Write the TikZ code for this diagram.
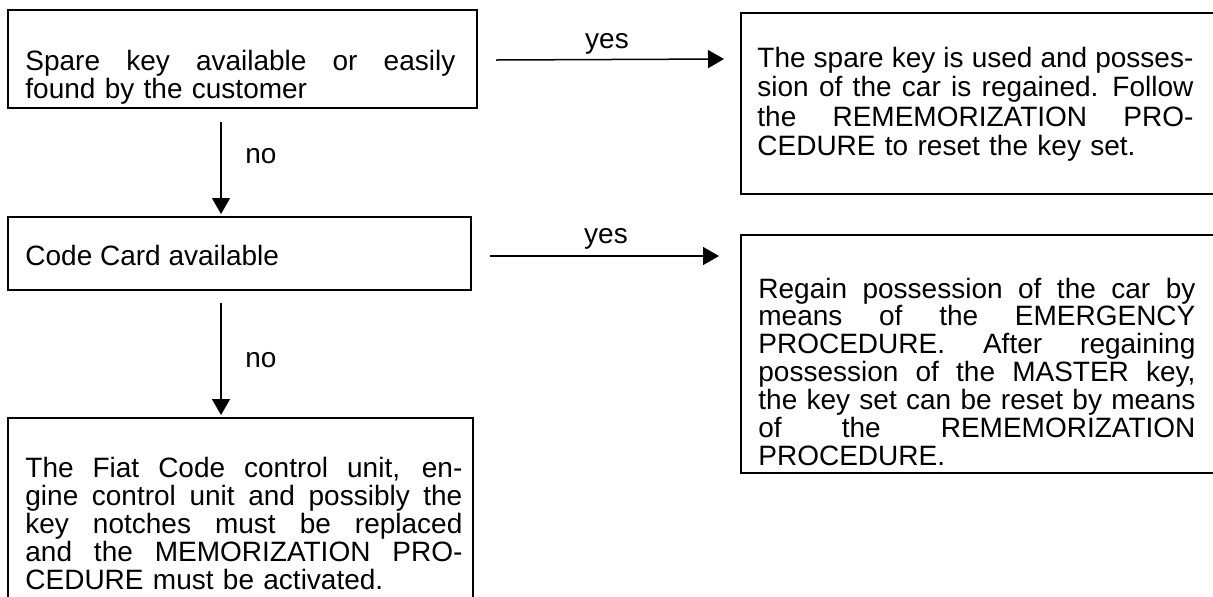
\documentclass[tikz,border=0pt]{standalone}
\usepackage{fontspec}
\setmainfont{Liberation Sans}
\usetikzlibrary{arrows.meta,fit}
\newlength\jw
\newcommand\jline[1]{\noindent\hbox to \jw{\spaceskip=0.278em plus 1fil\relax #1}}
\begin{document}
\begin{tikzpicture}[x=0.5pt,y=-0.5pt,
  box/.style={draw, line width=1pt, inner sep=0pt},
  txt/.style={inner sep=0pt, anchor=base west, font=\fontsize{14}{14}\selectfont},
  lbl/.style={inner sep=0pt, font=\fontsize{14}{14}\selectfont},
  arr/.style={line width=0.75pt, -{Triangle[length=8pt,width=9pt]}}]
\useasboundingbox (0,0) rectangle (1213,596);

% boxes
\node[box, fit={(8,10) (477,108)}] (A) {};
\node[box, fit={(8,217) (471,290)}] (B) {};
\node[box, fit={(8,418) (473,620)}] (C) {};
\node[box, fit={(741,13) (1240,194)}] (D) {};
\node[box, fit={(741,235) (1240,473)}] (E) {};

% texts
\node[txt, text width=215pt, font=\fontsize{14}{12.5}\selectfont] (At) at (25,70)
  {\setlength\jw{215pt}%
   \jline{Spare key available or easily}\\found by the customer};
\node[txt] (Bt) at (25,265) {Code Card available};
\node[txt, text width=218.5pt] (Ct) at (25,477)
  {\setlength\jw{218.5pt}%
   \jline{The Fiat Code control unit, en-}\\
   \jline{gine control unit and possibly the}\\
   \jline{key notches must be replaced}\\
   \jline{and the MEMORIZATION PRO-}\\
   CEDURE must be activated.};
\node[txt, text width=218pt, font=\fontsize{14}{14.75}\selectfont] (Dt) at (757,67)
  {\setlength\jw{218pt}%
   \jline{The spare key is used and posses-}\\
   \jline{sion of the car is regained. Follow}\\
   \jline{the REMEMORIZATION PRO-}\\
   CEDURE to reset the key set.};
\node[txt, text width=218.5pt, font=\fontsize{14}{13.95}\selectfont] (Et) at (758,298)
  {\setlength\jw{218.5pt}%
   \jline{Regain possession of the car by}\\
   \jline{means of the EMERGENCY}\\
   \jline{PROCEDURE. After regaining}\\
   \jline{possession of the MASTER key,}\\
   \jline{the key set can be reset by means}\\
   \jline{of the REMEMORIZATION}\\
   PROCEDURE.};

% connectors
\draw[arr] ([shift={(18,1)}]A.east) -- ([shift={(-16,0)}]A.east -| D.west);
\draw[arr] ([shift={(18,2.5)}]B.east) -- ([shift={(-21,2.5)}]B.east -| E.west);
\draw[arr] ([shift={(214,13)}]A.south west) -- ([shift={(214,-2)}]B.north west);
\draw[arr] ([shift={(214,12)}]B.south west) -- ([shift={(214,-2)}]C.north west);

% labels
\node[lbl, anchor=base] (y1) at (607,48) {yes};
\node[lbl, anchor=base] (y2) at (606,243) {yes};
\node[lbl, anchor=base west] (n1) at (245,163) {no};
\node[lbl, anchor=base west] (n2) at (245,367) {no};
\end{tikzpicture}
\end{document}
